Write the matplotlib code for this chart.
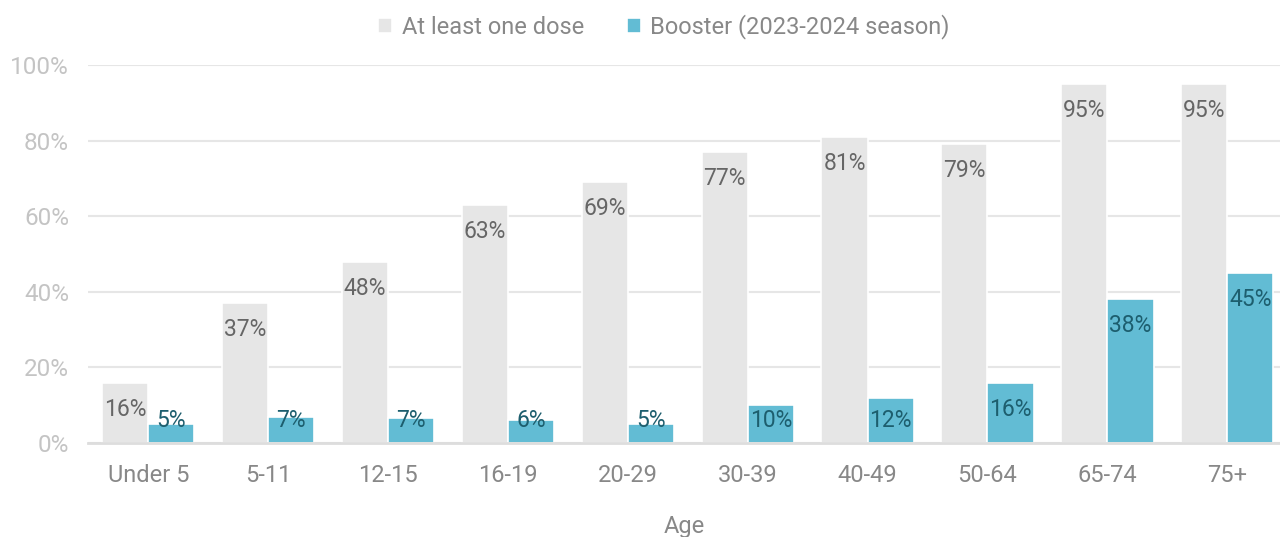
import matplotlib
matplotlib.use("Agg")
import matplotlib.pyplot as plt
import numpy as np

categories = ["Under 5", "5-11", "12-15", "16-19", "20-29", "30-39", "40-49", "50-64", "65-74", "75+"]
at_least_one = [16, 37, 48, 63, 69, 77, 81, 79, 95, 95]
booster = [5, 7, 6.6, 6, 5, 10, 12, 16, 38, 45]
y_ticks = [0, 20, 40, 60, 80, 100]

plt.rcParams['font.family'] = ['Roboto', 'DejaVu Sans']

fig = plt.figure(figsize=(12.8, 5.37), dpi=100)
ax = fig.add_axes([0.069, 0.175, 0.931, 0.704])

x = np.arange(len(categories))
w = 0.385
grey = "#e6e6e6"
blue = "#62bcd4"
ax.bar(x - w/2, at_least_one, w, color=grey, edgecolor="white", linewidth=1.2, zorder=3,
       label="At least one dose")
ax.bar(x + w/2, booster, w, color=blue, edgecolor="white", linewidth=1.2, zorder=3,
       label="Booster (2023-2024 season)")

for xi, v in zip(x - w/2, at_least_one):
    ax.text(xi, max(v - 7.0, 6.0), f"{v:.0f}%", ha="center", va="center", fontsize=16.5,
            color="#666666", zorder=4)
for xi, v in zip(x + w/2, booster):
    ax.text(xi, max(v - 7.0, 6.0), f"{v:.0f}%", ha="center", va="center", fontsize=16.5,
            color="#1d5e6e", zorder=4)

ax.set_xlim(-0.5, 9.44)
ax.set_ylim(0, 100)
ax.set_yticks(y_ticks)
ax.set_yticklabels([f"{t}%" for t in y_ticks], fontsize=17.5, color="#c4c4c4")
ax.set_xticks(x)
ax.set_xticklabels(categories, fontsize=17, color="#888888")
ax.tick_params(axis="both", length=0)
ax.tick_params(axis="y", pad=14)
ax.tick_params(axis="x", pad=15)
ax.grid(axis="y", color="#e6e6e6", linewidth=1.5, zorder=0)
for s in ["top", "right", "left"]:
    ax.spines[s].set_visible(False)
ax.spines["bottom"].set_color("#dddddd")
ax.spines["bottom"].set_linewidth(2)
ax.spines["bottom"].set_zorder(5)
ax.set_xlabel("Age", fontsize=17, color="#888888", labelpad=20)

ax.legend(loc="upper center", bbox_to_anchor=(0.483, 1.19), ncol=2, frameon=False,
          fontsize=17, handlelength=0.6, handleheight=0.6, handletextpad=0.4,
          columnspacing=1.8, labelcolor="#888888")

fig.savefig("out.png", dpi=100)
